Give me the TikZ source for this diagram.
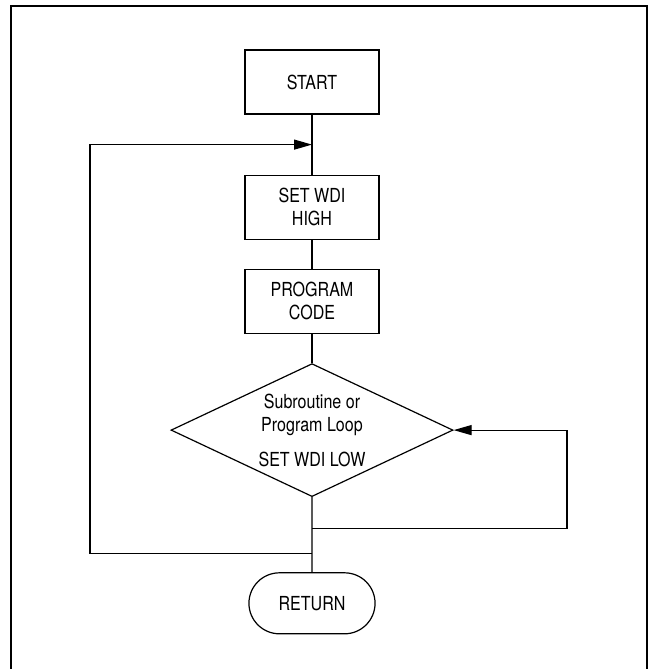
\documentclass[tikz,border=0pt]{standalone}
\usepackage{fontspec}
\setmainfont{TeX Gyre Heros}[FakeStretch=0.83]
\usetikzlibrary{arrows.meta, positioning, shapes.geometric, shapes.misc, calc}

\begin{document}
\begin{tikzpicture}[
    x=0.75pt, y=-0.75pt,
    box/.style={draw, minimum width=100.5pt, minimum height=48pt,
                align=center, inner sep=2pt},
    decide/.style={draw, diamond, shape aspect=2.12, minimum width=211.5pt,
                   minimum height=99.75pt, inner sep=0pt, align=center},
    ending/.style={draw, rounded rectangle, minimum width=101.25pt,
                   minimum height=45.75pt, align=center},
    >={Triangle[length=13.5pt,width=7.5pt]}, line width=0.9pt,
    every node/.style={font=\fontsize{14.5}{17.25}\selectfont}
  ]
    \useasboundingbox (0,0) rectangle (649,669);
    \draw[line width=1.6pt] (11,669) -- (11,6) -- (647,6) -- (647,669);

    \node[box] (start) at (312,82) {START};
    \node[box, below=45pt of start] (high) {SET WDI\\HIGH};
    \node[box, below=21.75pt of high] (prog) {PROGRAM\\CODE};
    \node[decide, below=21.75pt of prog] (dec)
      {Subroutine or\\Program Loop\\[9pt]SET WDI LOW};
    \node[ending, below=56.25pt of dec] (ret) {RETURN};

    \coordinate (merge) at ($(start.south)!0.5!(high.north)$);
    \coordinate[below=23.25pt of dec.south] (rjoin);
    \coordinate[below=18.75pt of rjoin] (ljoin);

    \draw (start) -- (high);
    \draw (high) -- (prog);
    \draw (prog) -- (dec);
    \draw (dec) -- (ret);
    \draw[->] (ljoin) -- ++(-222,0) |- (merge);
    \draw[->] (rjoin) -- ++(255,0) |- (dec.east);
  \end{tikzpicture}
\end{document}
